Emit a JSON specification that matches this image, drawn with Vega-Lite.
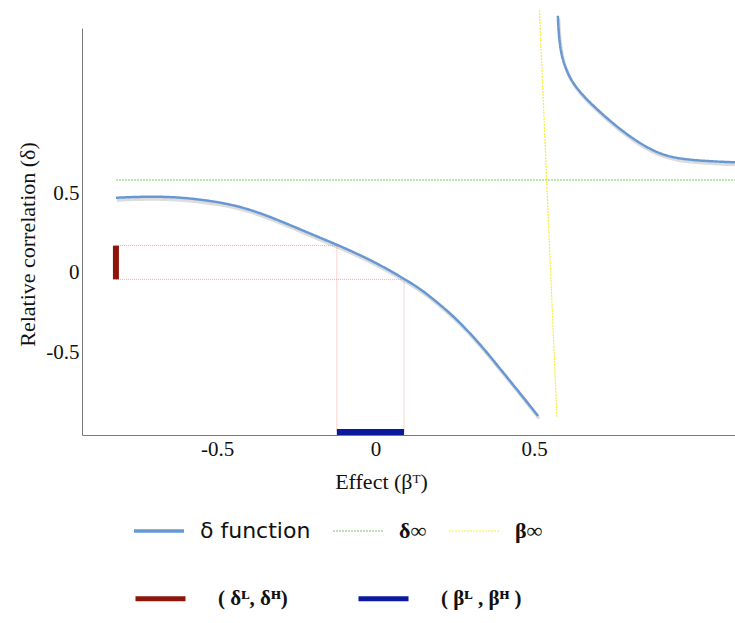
{
  "$schema": "https://vega.github.io/schema/vega-lite/v6.json",
  "autosize": {"type": "none"},
  "padding": {"left": 82, "top": 28, "right": 0, "bottom": 188},
  "width": 653,
  "height": 407,
  "background": "white",
  "config": {
    "view": {"stroke": null}
  },
  "datasets": {
    "curve": [
      {"series": "δ function", "seg": "a", "x": -0.819, "y": 0.470},
      {"series": "δ function", "seg": "a", "x": -0.765, "y": 0.475},
      {"series": "δ function", "seg": "a", "x": -0.711, "y": 0.477},
      {"series": "δ function", "seg": "a", "x": -0.660, "y": 0.476},
      {"series": "δ function", "seg": "a", "x": -0.607, "y": 0.470},
      {"series": "δ function", "seg": "a", "x": -0.554, "y": 0.459},
      {"series": "δ function", "seg": "a", "x": -0.501, "y": 0.444},
      {"series": "δ function", "seg": "a", "x": -0.449, "y": 0.424},
      {"series": "δ function", "seg": "a", "x": -0.396, "y": 0.395},
      {"series": "δ function", "seg": "a", "x": -0.343, "y": 0.358},
      {"series": "δ function", "seg": "a", "x": -0.291, "y": 0.316},
      {"series": "δ function", "seg": "a", "x": -0.238, "y": 0.272},
      {"series": "δ function", "seg": "a", "x": -0.186, "y": 0.228},
      {"series": "δ function", "seg": "a", "x": -0.122, "y": 0.175},
      {"series": "δ function", "seg": "a", "x": -0.070, "y": 0.129},
      {"series": "δ function", "seg": "a", "x": -0.017, "y": 0.079},
      {"series": "δ function", "seg": "a", "x": 0.035, "y": 0.024},
      {"series": "δ function", "seg": "a", "x": 0.093, "y": -0.043},
      {"series": "δ function", "seg": "a", "x": 0.140, "y": -0.101},
      {"series": "δ function", "seg": "a", "x": 0.193, "y": -0.184},
      {"series": "δ function", "seg": "a", "x": 0.256, "y": -0.292},
      {"series": "δ function", "seg": "a", "x": 0.330, "y": -0.450},
      {"series": "δ function", "seg": "a", "x": 0.393, "y": -0.605},
      {"series": "δ function", "seg": "a", "x": 0.456, "y": -0.760},
      {"series": "δ function", "seg": "a", "x": 0.513, "y": -0.903},
      {"series": "δ function", "seg": "b", "x": 0.575, "y": 1.615},
      {"series": "δ function", "seg": "b", "x": 0.577, "y": 1.530},
      {"series": "δ function", "seg": "b", "x": 0.582, "y": 1.420},
      {"series": "δ function", "seg": "b", "x": 0.591, "y": 1.330},
      {"series": "δ function", "seg": "b", "x": 0.614, "y": 1.215},
      {"series": "δ function", "seg": "b", "x": 0.645, "y": 1.135},
      {"series": "δ function", "seg": "b", "x": 0.677, "y": 1.066},
      {"series": "δ function", "seg": "b", "x": 0.771, "y": 0.896},
      {"series": "δ function", "seg": "b", "x": 0.875, "y": 0.758},
      {"series": "δ function", "seg": "b", "x": 0.961, "y": 0.708},
      {"series": "δ function", "seg": "b", "x": 1.134, "y": 0.693}
    ],
    "asym": [
      {"series": "δ∞", "seg": "g", "x": -0.819, "y": 0.582},
      {"series": "δ∞", "seg": "g", "x": 1.134, "y": 0.582},
      {"series": "β∞", "seg": "h", "x": 0.517, "y": 1.651},
      {"series": "β∞", "seg": "h", "x": 0.572, "y": -0.907}
    ],
    "refs": [
      {"x": -0.819, "x2": -0.122, "y": 0.169, "y2": 0.169},
      {"x": -0.819, "x2": 0.090, "y": -0.043, "y2": -0.043},
      {"x": -0.122, "x2": -0.122, "y": 0.169, "y2": -1.003},
      {"x": 0.090, "x2": 0.090, "y": -0.043, "y2": -1.003}
    ],
    "intervals": [
      {"series": "( δᴸ, δᴴ)", "x": -0.819, "x2": -0.819, "y": -0.043, "y2": 0.169},
      {"series": "( βᴸ , βᴴ )", "x": -0.122, "x2": 0.090, "y": -1.003, "y2": -1.003}
    ]
  },
  "layer": [
    {
      "data": {"name": "refs"},
      "mark": {"type": "rule", "color": "#eaa8a2", "strokeWidth": 1, "strokeDash": [1, 1]},
      "encoding": {
        "x": {"field": "x", "type": "quantitative", "scale": {"domain": [-0.926, 1.134], "nice": false, "zero": false},
              "axis": {"values": [-0.5, 0, 0.5], "grid": false, "ticks": false, "domainColor": "#7a7a7a",
                       "labelExpr": "datum.value < 0 ? '-' + format(-datum.value, '~g') : format(datum.value, '~g')",
                       "labelFont": "Liberation Serif", "labelFontSize": 21, "labelColor": "#111", "labelPadding": 3,
                       "title": "Effect (βᵀ)", "titleFont": "Liberation Serif", "titleFontSize": 22, "titleFontWeight": "normal", "titleColor": "#111",
                       "titleX": 299, "titleY": 53, "titleBaseline": "alphabetic"}},
        "x2": {"field": "x2"},
        "y": {"field": "y", "type": "quantitative", "scale": {"domain": [-1.022, 1.538], "nice": false, "zero": false},
              "axis": {"values": [-0.5, 0, 0.5], "grid": false, "ticks": false, "domainColor": "#7a7a7a",
                       "labelExpr": "datum.value < 0 ? '-' + format(-datum.value, '~g') : format(datum.value, '~g')",
                       "labelFont": "Liberation Serif", "labelFontSize": 21, "labelColor": "#111", "labelPadding": 3,
                       "title": "Relative correlation (δ)", "titleFont": "Liberation Serif", "titleFontSize": 22, "titleFontWeight": "normal", "titleColor": "#111",
                       "titleX": -55, "titleY": 216, "titleBaseline": "middle"}},
        "y2": {"field": "y2"}
      }
    },
    {
      "data": {"name": "curve"},
      "mark": {"type": "line", "interpolate": "basis", "color": "#9a9a9a", "opacity": 0.35, "strokeWidth": 3, "yOffset": 2.5, "xOffset": 1},
      "encoding": {
        "x": {"field": "x", "type": "quantitative"},
        "y": {"field": "y", "type": "quantitative"},
        "detail": {"field": "seg", "type": "nominal"}
      }
    },
    {
      "data": {"name": "asym"},
      "mark": {"type": "line", "strokeWidth": 1.2},
      "encoding": {
        "x": {"field": "x", "type": "quantitative"},
        "y": {"field": "y", "type": "quantitative"},
        "detail": {"field": "seg", "type": "nominal"},
        "order": {"field": "y", "type": "quantitative"},
        "color": {"field": "series", "type": "nominal"},
        "strokeDash": {"field": "series", "type": "nominal"}
      }
    },
    {
      "data": {"name": "curve"},
      "mark": {"type": "line", "interpolate": "basis", "strokeWidth": 2.5},
      "encoding": {
        "x": {"field": "x", "type": "quantitative"},
        "y": {"field": "y", "type": "quantitative"},
        "detail": {"field": "seg", "type": "nominal"},
        "color": {"field": "series", "type": "nominal",
          "scale": {"domain": ["δ function", "δ∞", "β∞"], "range": ["#6798d2", "#72c963", "#f2ef3c"]},
          "legend": {
            "orient": "none", "legendX": 66, "legendY": 492, "direction": "horizontal", "title": null,
            "symbolType": "stroke", "symbolSize": 2500, "symbolStrokeWidth": 1.5,
            "labelFontSize": 22, "labelFont": "Liberation Serif", "labelFontWeight": "bold", "labelColor": "#111",
            "labelOffset": 30, "columnPadding": 19,
            "encode": {
              "symbols": {"update": {"strokeWidth": {"signal": "datum.value === 'δ function' ? 3.5 : 1.2"}}},
              "labels": {"update": {
                "font": {"signal": "datum.value === 'δ function' ? 'DejaVu Sans' : 'Liberation Serif'"},
                "fontWeight": {"signal": "datum.value === 'δ function' ? 'normal' : 'bold'"}
              }}
            }
          }},
        "strokeDash": {"field": "series", "type": "nominal",
          "scale": {"domain": ["δ function", "δ∞", "β∞"], "range": [[1, 0], [2, 1], [2, 1]]}}
      }
    },
    {
      "data": {"name": "intervals"},
      "mark": {"type": "rule", "strokeWidth": 6, "strokeCap": "butt"},
      "encoding": {
        "x": {"field": "x", "type": "quantitative"},
        "x2": {"field": "x2"},
        "y": {"field": "y", "type": "quantitative"},
        "y2": {"field": "y2"},
        "stroke": {"field": "series", "type": "nominal",
          "scale": {"domain": ["( δᴸ, δᴴ)", "( βᴸ , βᴴ )"], "range": ["#8e1509", "#0b1a9c"]},
          "legend": {
            "orient": "none", "legendX": 51, "legendY": 543, "direction": "horizontal", "title": null,
            "symbolType": "stroke", "symbolSize": 2500, "symbolStrokeWidth": 5,
            "labelFontSize": 21, "labelFont": "Liberation Serif", "labelFontWeight": "bold", "labelColor": "#111",
            "labelOffset": 30, "columnPadding": 60
          }}
      }
    }
  ]
}
